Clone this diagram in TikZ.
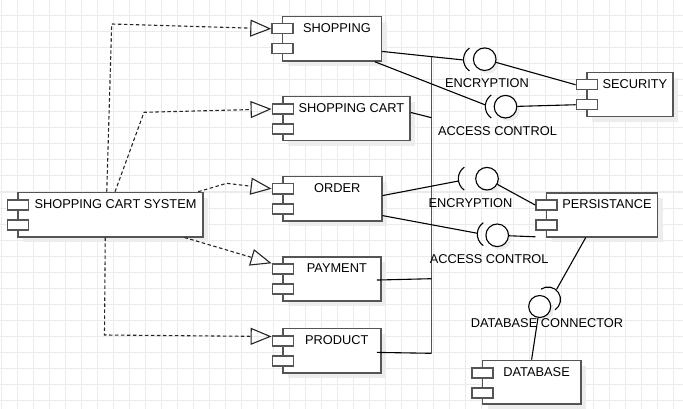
\documentclass[tikz,border=0pt]{standalone}
\usepackage{fontspec}
\setmainfont{Liberation Sans}
\usetikzlibrary{arrows.meta,calc}
\definecolor{gridc}{HTML}{EBEBEB}
\definecolor{shadc}{HTML}{EDEDED}
\definecolor{bordc}{HTML}{555555}
\tikzset{
  compbox/.style={draw=bordc, line width=1.5pt, fill=white, rectangle, inner sep=0pt, anchor=north west},
  portbox/.style={draw=bordc, line width=1.5pt, fill=white, rectangle, inner sep=0pt, minimum width=21pt, minimum height=10pt, anchor=north west},
  lbl/.style={font=\fontsize{12.8pt}{15pt}\selectfont, inner sep=0pt, text=black},
  conn/.style={draw=black, line width=1.1pt},
  busline/.style={draw=bordc, line width=1.5pt},
  realize/.style={draw=black!85, line width=1.1pt, dash pattern=on 3.5pt off 2.5pt, -{Triangle[open,length=21pt,width=17pt]}},
  ball/.style={circle, draw=black, line width=1.1pt, fill=white, minimum size=22.6pt, inner sep=0pt},
  sock/.style={draw=black, line width=1.1pt},
}
\newcommand\umlcomp[6]{%
  \fill[shadc] (#2+6,#3+6) rectangle (#2+#4+6,#3+#5+6);
  \node[compbox, minimum width=#4pt, minimum height=#5pt] (#1) at (#2,#3) {};
  \node[portbox] (#1-p1) at (#2-10.4,#3+7.3) {};
  \node[portbox] (#1-p2) at (#2-10.4,#3+27.3) {};
  \node[lbl] (#1-t) at ($(#1.north)+(5,12)$) {#6};
}
\newcommand\iface[5]{%
  \fill[shadc] (#2+3,#3+3) circle[radius=11.3];
  \draw[sock] (#4+14,#5) ++(125:14) arc[start angle=125, end angle=235, radius=14];
  \node[ball] (#1) at (#2,#3) {};
}
\begin{document}
\begin{tikzpicture}[x=1pt,y=-1pt]
\fill[white] (0,0) rectangle (683,409);
\useasboundingbox (0,0) rectangle (683,409);
% grid
\foreach \i in {0,...,42} \draw[gridc, line width=1pt] (1.3+16*\i,0) -- (1.3+16*\i,409);
\foreach \j in {0,...,25} \draw[gridc, line width=1pt] (0,16*\j) -- (683,16*\j);

% components
\umlcomp{shop}{281.7}{15.7}{99}{44.5}{SHOPPING}
\umlcomp{cart}{282}{96}{127.3}{44}{SHOPPING CART}
\umlcomp{order}{282}{175.7}{99}{44.3}{ORDER}
\umlcomp{pay}{282}{256}{98.2}{44}{PAYMENT}
\umlcomp{prod}{282}{327.7}{98}{44.3}{PRODUCT}
\umlcomp{scs}{17.3}{191.7}{185}{44.3}{SHOPPING CART SYSTEM}
\umlcomp{sec}{586}{71.7}{86.3}{44.3}{SECURITY}
\umlcomp{pers}{545.7}{192}{111}{44}{PERSISTANCE}
\umlcomp{db}{481.7}{359.7}{98.3}{43.6}{DATABASE}

% socket back points and bus points
\coordinate (ias) at (463.5,60);
\coordinate (ibs) at (485.5,105);
\coordinate (ics) at (458.5,181);
\coordinate (ids) at (477.5,233.3);
\coordinate (ies) at (556.5,289.5);
\coordinate (bustop) at (431.5,57);
\coordinate (bus1) at (431.5,117.7);
\coordinate (bus2) at (431.5,278.7);
\coordinate (busbot) at (431.5,353.3);

% bus and assembly lines
\draw[busline] (bustop) -- (busbot);
\draw[conn] ([yshift=-12.75pt]shop.east) -- (ias);
\draw[conn] ([xshift=-7.5pt]shop.south east) -- (ibs);
\draw[conn] ([yshift=6.3pt]cart.east) -- (bus1);
\draw[conn] ([yshift=3pt]order.east) -- (ics);
\draw[conn] ([yshift=-17pt]order.east) -- (ids);
\draw[conn] ([xshift=-4.8pt,yshift=-1.3pt]pay.east) -- (bus2);
\draw[conn] ([xshift=-4.6pt,yshift=-1.8pt]prod.east) -- (busbot);
\draw[conn] ([xshift=-16.2pt]pers.south) -- (ies);

% interfaces
\iface{ia}{484.7}{59.2}{463.5}{59.5}
\iface{ib}{505.5}{106.7}{485.3}{106.5}
\iface{ic}{487}{178.7}{458.3}{178.7}
\iface{id}{497.2}{235.3}{477.3}{234.2}
\fill[shadc] (542.7,309.5) circle[radius=11];
\draw[sock] (548,299.5) ++(56:12.5) arc[start angle=56, end angle=-124, radius=12.5];
\node[ball, minimum size=22pt] (ie) at (539.7,306.5) {};

\draw[conn] (ia) -- (sec-p1.west);
\draw[conn] (ib) -- (sec-p2.west);
\draw[conn] (ic) -- (pers-p1.west);
\draw[conn] (id) -- ([yshift=-6pt]pers-p2.south west);
\draw[conn] (ie) -- (db.north);

% interface labels
\node[lbl] (la) at (487,83) {ENCRYPTION};
\node[lbl] (lb) at (497.5,130.7) {ACCESS CONTROL};
\node[lbl] (lc) at (470.5,203.3) {ENCRYPTION};
\node[lbl] (ld) at (489.2,259) {ACCESS CONTROL};
\node[lbl] (le) at (547,322.7) {DATABASE CONNECTOR};

% realizations
\draw[realize] ([xshift=-3.8pt]scs.north) -- (111.7,24) -- (shop-p1.west);
\draw[realize] ([xshift=4.5pt]scs.north) -- (144,112.3) -- (cart-p1.west);
\draw[realize] ([xshift=-5.6pt]scs.north east) -- (226.7,183.3) -- (order-p1.west);
\draw[realize] ([xshift=-19.3pt]scs.south east) -- (pay-p1.north west);
\draw[realize] ([xshift=-5.3pt]scs.south) -- (104.5,335) -- ([yshift=-1.5pt]prod-p1.north west);
\end{tikzpicture}
\end{document}
